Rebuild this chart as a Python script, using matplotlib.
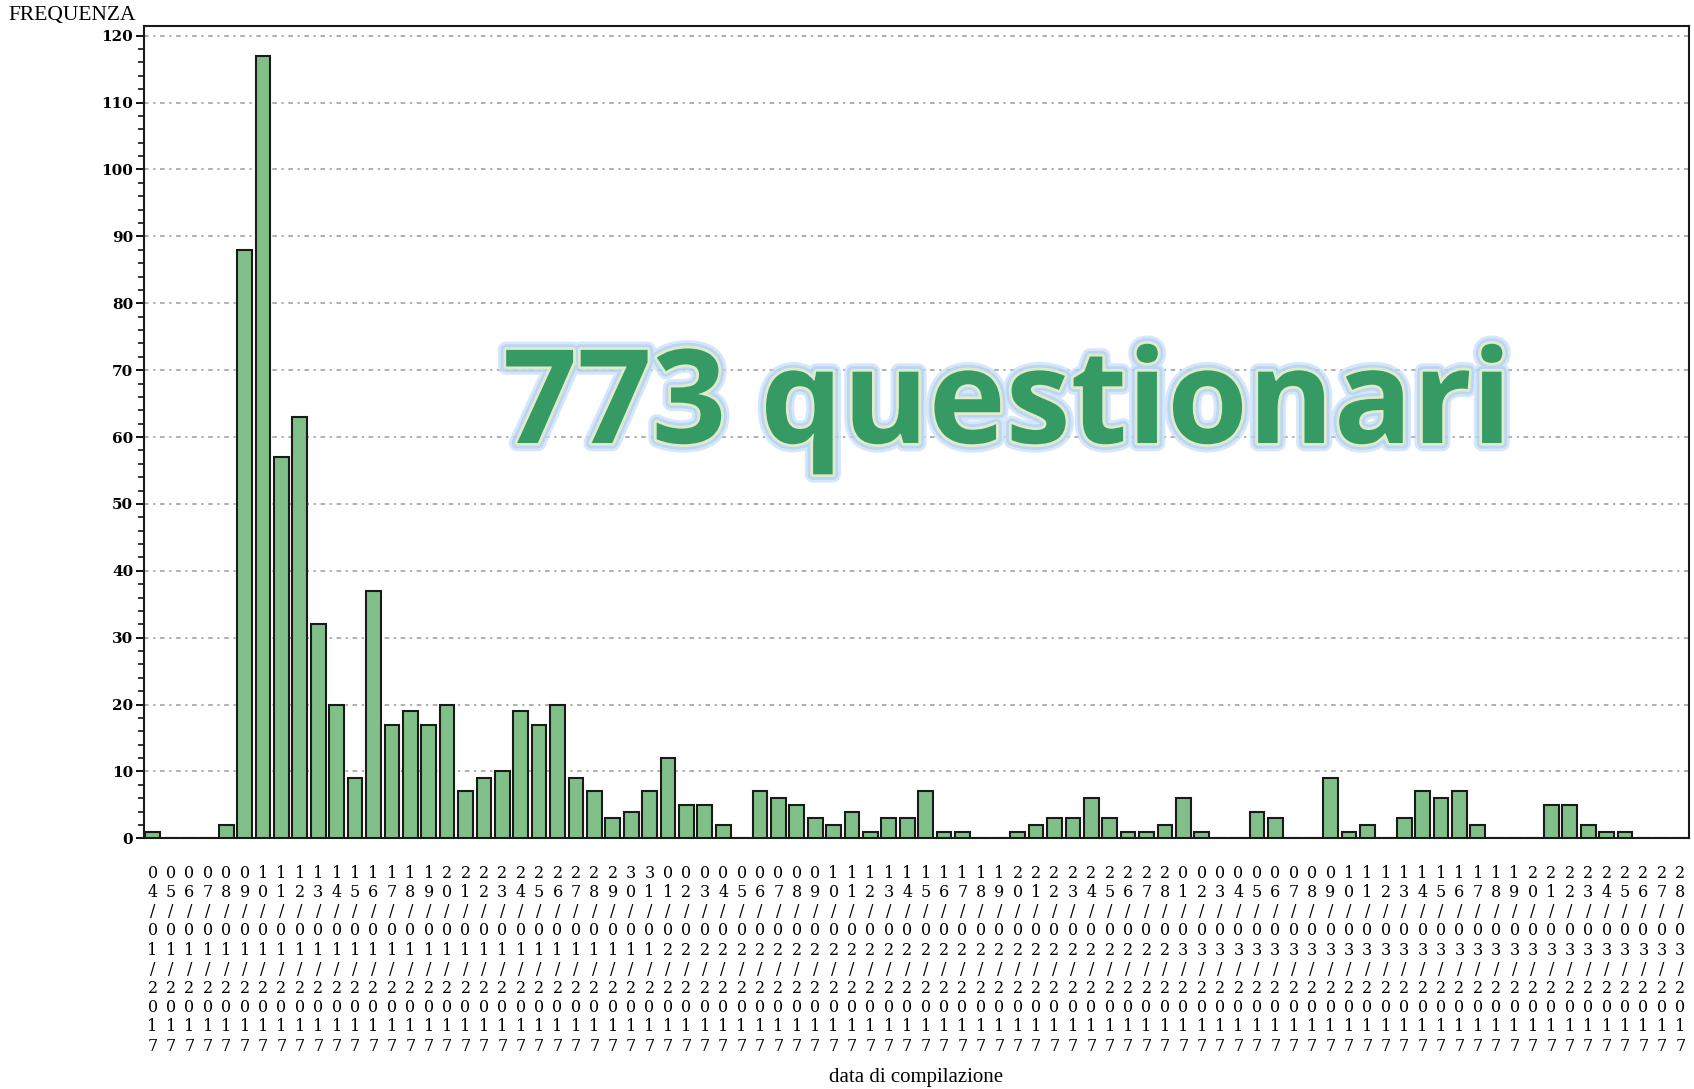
import numpy as np
import matplotlib
matplotlib.use("Agg")
import matplotlib.pyplot as plt
import matplotlib.patheffects as pe
from matplotlib.ticker import MultipleLocator

# days shown on the x axis (Jan 4 .. Mar 28, 2017)
jan_days = list(range(4, 32))
feb_days = list(range(1, 29))
mar_days = list(range(1, 29))

jan_counts = [1, 0, 0, 0, 2, 88, 117, 57, 63, 32, 20, 9, 37, 17, 19, 17, 20, 7,
              9, 10, 19, 17, 20, 9, 7, 3, 4, 7]
feb_counts = [12, 5, 5, 2, 0, 7, 6, 5, 3, 2, 4, 1, 3, 3, 7, 1, 1, 0, 0, 1, 2, 3,
              3, 6, 3, 1, 1, 2]
mar_counts = [6, 1, 0, 0, 4, 3, 0, 0, 9, 1, 2, 0, 3, 7, 6, 7, 2, 0, 0, 0, 5, 5,
              2, 1, 1, 0, 0, 0]

dates = ["%02d/01/2017" % d for d in jan_days] + \
        ["%02d/02/2017" % d for d in feb_days] + \
        ["%02d/03/2017" % d for d in mar_days]
counts = jan_counts + feb_counts + mar_counts
tick_labels = ["\n".join(s) for s in dates]

serif = ["Liberation Serif", "DejaVu Serif"]
dserif = ["DejaVu Serif"]

fig = plt.figure(figsize=(16.94, 10.89), dpi=100)
ax = fig.add_axes([0.0852, 0.2302, 0.997 - 0.0852, 0.9764 - 0.2302])

x = np.arange(len(counts))
ax.bar(x, counts, width=0.8, color="#80C088", edgecolor="#1a1a1a", linewidth=1.5, zorder=3)

ax.set_xlim(-0.45, len(counts) - 0.53)
ax.set_ylim(0, 121.5)

ax.yaxis.set_major_locator(MultipleLocator(10))
ax.yaxis.set_minor_locator(MultipleLocator(2))
ax.grid(axis="y", which="major", color="#9a9a9a", linestyle=(0, (3, 3, 1.5, 3)),
        linewidth=1.1, zorder=0)

ax.set_xticks(x)
ax.set_xticklabels(tick_labels, family=dserif, fontsize=11.5, linespacing=1.17)
ax.tick_params(axis="x", length=0, pad=19)
ax.tick_params(axis="y", which="major", length=6, width=1.3, pad=2)
ax.tick_params(axis="y", which="minor", length=4, width=1.1)
for lab in ax.get_yticklabels():
    lab.set_family(dserif)
    lab.set_fontsize(11)
    lab.set_fontweight("bold")

for sp in ax.spines.values():
    sp.set_linewidth(1.5)
    sp.set_color("#1a1a1a")

fig.text(0.005, 0.986, "FREQUENZA", family=serif, fontsize=15.5, va="center", ha="left")
xl = fig.text(0.5405, 0.011, "data di compilazione", family=serif, fontsize=15,
              ha="center", va="center")

big = ax.text(0.5585, 0.4865, "773 questionari", transform=ax.transAxes,
              ha="center", va="baseline", fontsize=94, fontweight="bold",
              family=["Open Sans", "DejaVu Sans"], color="#359A63", zorder=5)
big.set_path_effects([
    pe.Stroke(linewidth=12, foreground="#c6ddf7", alpha=0.7),
    pe.Stroke(linewidth=8, foreground="#a9cbf2", alpha=0.6),
    pe.Stroke(linewidth=4, foreground="#dfeccb"),
    pe.Normal(),
])

fig.savefig("out.png", dpi=100)
